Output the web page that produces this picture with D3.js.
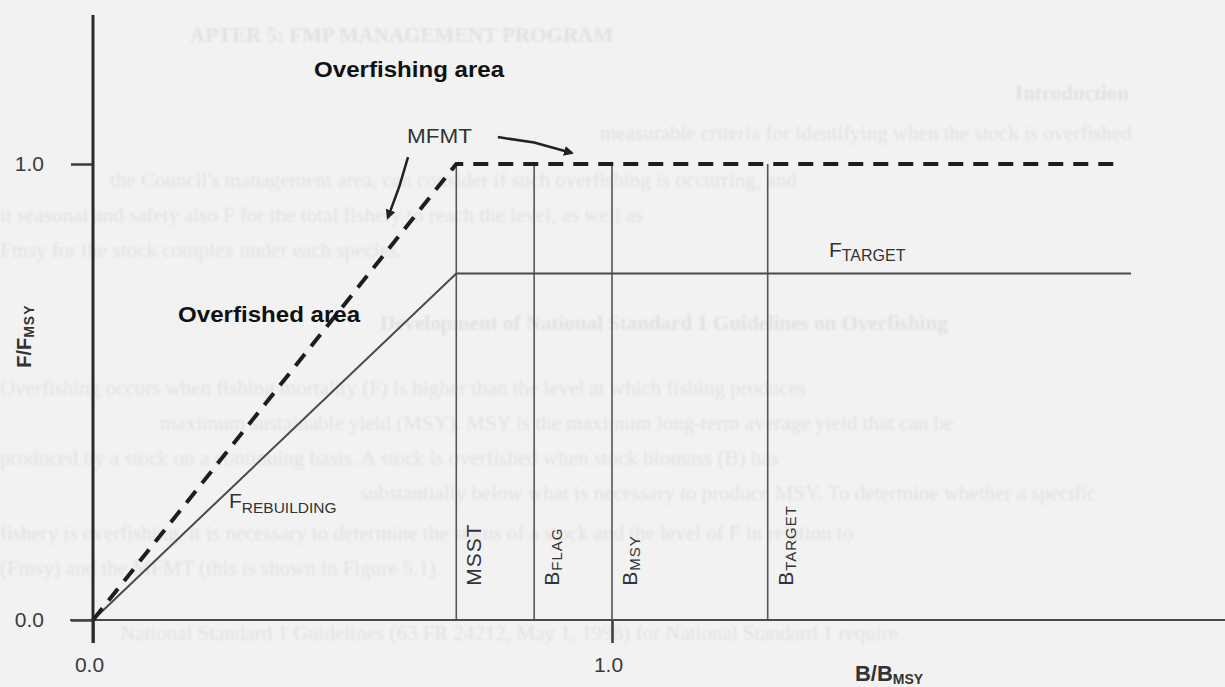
<!DOCTYPE html>
<meta charset="utf-8">
<style>
body { margin: 0; background: #f2f2f2; }
svg { display: block; }
.page text { font-family: "Liberation Serif", "DejaVu Serif", serif; font-size: 21px; fill: #e1e1e1; }
.axis text { font-family: "Liberation Sans", Arial, sans-serif; font-size: 21px; fill: #3a3a3a; }
.axis line { stroke: #3a3a3a; stroke-width: 2.5px; }
.ref { stroke: #555; stroke-width: 1.6px; }
.mfmt { fill: none; stroke: #1e1e1e; stroke-width: 4px; stroke-dasharray: 15, 10; }
.frebuild { fill: none; stroke: #4a4a4a; stroke-width: 2px; }
.lbl { font-family: "Liberation Sans", Arial, sans-serif; fill: #333; }
.area { font-family: "Liberation Sans Narrow", "Liberation Sans", Arial, sans-serif; font-weight: bold; font-size: 22px; fill: #111; }
.title { font-family: "Liberation Sans", Arial, sans-serif; font-weight: bold; fill: #333; }
.arrow { fill: none; stroke: #222; stroke-width: 2.5px; }
</style>
<svg width="1225" height="687"></svg>
<script src="https://d3js.org/d3.v7.min.js"></script>
<script>
// reference points on the B/Bmsy axis
var refMain = ["MSST", "B", "B", "B"];
var refSub = ["", "FLAG", "MSY", "TARGET"];
var refValues = [0.70, 0.85, 1.0, 1.30];
var refTop = 1.0;

// maximum fishing mortality threshold (dashed)
var mfmtB = [0, 0.70, 1.98];
var mfmtF = [0, 1.0, 1.0];

// rebuilding / target fishing mortality (solid)
var rebuildB = [0, 0.70, 2.0];
var rebuildF = [0, 0.76, 0.76];

var xTicks = [0, 1];
var yTicks = [0, 1];

// faint text of the scanned page showing through behind the figure
var pageText = [
  "APTER 5: FMP MANAGEMENT PROGRAM",
  "Introduction",
  "measurable criteria for identifying when the stock is overfished",
  "the Council's management area, can consider if such overfishing is occurring, and",
  "it seasonal and safety also F   for the total fishery to reach the level, as well as",
  "Fmsy for the stock complex under each species.",
  "Development of National Standard 1 Guidelines on Overfishing",
  "Overfishing occurs when fishing mortality (F) is higher than the level at which fishing produces",
  "maximum sustainable yield (MSY). MSY is the maximum long-term average yield that can be",
  "produced by a stock on a continuing basis. A stock is overfished when stock biomass (B) has",
  "substantially below what is necessary to produce MSY. To determine whether a specific",
  "fishery is overfishing, it is necessary to determine the status of a stock and the level of F in relation to",
  "(Fmsy) and the MFMT (this is shown in Figure 5.1).",
  "National Standard 1 Guidelines (63 FR 24212, May 1, 1998) for National Standard 1 require"
];
var pageY = [42, 100, 140, 187, 222, 257, 330, 395, 430, 465, 500, 540, 575, 640];
var pageX = [190, 1015, 600, 110, 0, 0, 380, 0, 160, 0, 360, 0, 0, 120];

var svg = d3.select("svg");

var x = d3.scaleLinear().domain([0, 1]).range([93, 612]);
var y = d3.scaleLinear().domain([0, 1]).range([620, 164]);

var defs = svg.append("defs");
defs.append("filter").attr("id", "soft")
  .append("feGaussianBlur").attr("stdDeviation", 1.1);
defs.append("marker")
    .attr("id", "head")
    .attr("viewBox", "0 0 10 10")
    .attr("refX", 8).attr("refY", 5)
    .attr("markerWidth", 4).attr("markerHeight", 4)
    .attr("orient", "auto")
  .append("path")
    .attr("d", "M0,0L10,5L0,10z")
    .attr("fill", "#222");

svg.append("g")
    .attr("class", "page")
    .attr("filter", "url(#soft)")
  .selectAll("text")
  .data(pageText)
  .enter().append("text")
    .attr("x", function(d, i) { return pageX[i]; })
    .attr("y", function(d, i) { return pageY[i]; })
    .style("font-weight", function(d, i) { return i < 2 || i == 6 ? "bold" : null; })
    .text(function(d) { return d; });

// axes
var xMin = x.invert(70), xMax = x.invert(1225);
var yTopVal = y.invert(15), yBotVal = y.invert(643);

var gy = svg.append("g")
    .attr("class", "axis")
    .attr("transform", "translate(" + x(0) + ",0)")
    .call(d3.axisLeft(y).tickValues(yTicks).tickFormat(d3.format(".1f")).tickSize(22).tickPadding(27));
gy.select(".domain").remove();

var gx = svg.append("g")
    .attr("class", "axis")
    .attr("transform", "translate(0," + y(0) + ")")
    .call(d3.axisBottom(x).tickValues(xTicks).tickFormat(d3.format(".1f")).tickSize(23).tickPadding(14));
gx.select(".domain").remove();
gx.selectAll("text").attr("dx", -4);

svg.append("line")
    .attr("x1", x(xMin)).attr("x2", x(xMax))
    .attr("y1", y(0)).attr("y2", y(0))
    .attr("stroke", "#4a4a4a").attr("stroke-width", 2.2);
svg.append("line")
    .attr("x1", x(0)).attr("x2", x(0))
    .attr("y1", y(yTopVal)).attr("y2", y(yBotVal))
    .attr("stroke", "#2a2a2a").attr("stroke-width", 3);

// reference lines
svg.selectAll(".ref")
  .data(refValues)
  .enter().append("line")
    .attr("class", "ref")
    .attr("x1", function(d) { return x(d); })
    .attr("x2", function(d) { return x(d); })
    .attr("y1", y(0))
    .attr("y2", y(refTop));

var refLbl = svg.selectAll(".reflbl")
  .data(refValues)
  .enter().append("text")
    .attr("class", "lbl reflbl")
    .attr("transform", function(d) { return "translate(" + (x(d) + 25) + "," + y(0.075) + ") rotate(-90)"; })
    .style("letter-spacing", "1px");
refLbl.append("tspan")
    .attr("font-size", 21)
    .text(function(d, i) { return refMain[i]; });
refLbl.append("tspan")
    .attr("font-size", 15)
    .attr("dy", 3)
    .text(function(d, i) { return refSub[i]; });

// control rule lines
var line = d3.line()
    .x(function(d) { return x(d[0]); })
    .y(function(d) { return y(d[1]); });

svg.append("path")
    .datum(d3.zip(rebuildB, rebuildF))
    .attr("class", "frebuild")
    .attr("d", line);

svg.append("path")
    .datum(d3.zip(mfmtB, mfmtF))
    .attr("class", "mfmt")
    .attr("d", line);

// annotations
svg.append("text").attr("class", "area")
    .attr("x", x(0.426)).attr("y", y(1.191))
    .attr("textLength", 190).attr("lengthAdjust", "spacingAndGlyphs")
    .text("Overfishing area");
svg.append("text").attr("class", "area")
    .attr("x", x(0.164)).attr("y", y(0.654))
    .attr("textLength", 182).attr("lengthAdjust", "spacingAndGlyphs")
    .text("Overfished area");

svg.append("text").attr("class", "lbl")
    .attr("x", x(0.605)).attr("y", y(1.046))
    .attr("font-size", 20)
    .attr("textLength", 65).attr("lengthAdjust", "spacingAndGlyphs")
    .text("MFMT");

svg.append("path").attr("class", "arrow")
    .attr("marker-end", "url(#head)")
    .attr("d", line([[0.780, 1.059], [0.850, 1.047], [0.923, 1.024]]));
svg.append("path").attr("class", "arrow")
    .attr("marker-end", "url(#head)")
    .attr("d", line([[0.607, 1.015], [0.590, 0.950], [0.568, 0.882]]));

var fr = svg.append("text").attr("class", "lbl")
    .attr("x", x(0.262)).attr("y", y(0.246));
fr.append("tspan").attr("font-size", 21).text("F");
fr.append("tspan").attr("font-size", 15.5).attr("dy", 5).text("REBUILDING");

var ft = svg.append("text").attr("class", "lbl")
    .attr("x", x(1.418)).attr("y", y(0.796));
ft.append("tspan").attr("font-size", 21).text("F");
ft.append("tspan").attr("font-size", 16).attr("dy", 4).text("TARGET");

var xt = svg.append("text").attr("class", "title")
    .attr("x", x(1.468)).attr("y", y(-0.134));
xt.append("tspan").attr("font-size", 22).text("B/B");
xt.append("tspan").attr("font-size", 14).attr("dy", 3).text("MSY");

var yt = svg.append("text").attr("class", "title")
    .attr("transform", "translate(" + x(-0.119) + "," + y(0.553) + ") rotate(-90)");
yt.append("tspan").attr("font-size", 20).text("F/F");
yt.append("tspan").attr("font-size", 14).attr("dy", 3).style("letter-spacing", "1px").text("MSY");
</script>
